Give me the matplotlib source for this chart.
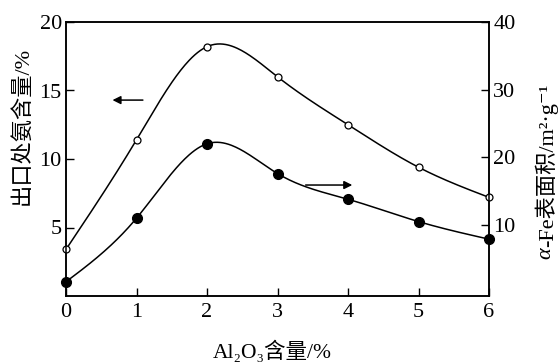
import numpy as np
import matplotlib
matplotlib.use('Agg')
import matplotlib.pyplot as plt

plt.rcParams['font.family'] = ['Liberation Serif', 'DejaVu Serif', 'Noto Sans CJK SC']

# data
al2o3 = [0, 1, 2, 3, 4, 5, 6]
nh3_outlet = [3.4, 11.4, 18.2, 16.0, 12.5, 9.4, 7.2]        # left axis, open circles
fe_area = [1.6, 11.0, 22.0, 17.6, 13.8, 10.5, 7.9]         # right axis, filled circles

x_ticks = [0, 1, 2, 3, 4, 5, 6]
left_ticks = [5, 10, 15, 20]
right_ticks = [10, 20, 30, 40]


def natural_spline(x, y, n=300):
    # plain natural cubic spline, just to get the smooth curves
    x = np.asarray(x, float)
    y = np.asarray(y, float)
    k = len(x)
    h = np.diff(x)
    A = np.zeros((k, k))
    b = np.zeros(k)
    A[0, 0] = 1
    A[-1, -1] = 1
    for i in range(1, k - 1):
        A[i, i - 1] = h[i - 1]
        A[i, i] = 2 * (h[i - 1] + h[i])
        A[i, i + 1] = h[i]
        b[i] = 6 * ((y[i + 1] - y[i]) / h[i] - (y[i] - y[i - 1]) / h[i - 1])
    m = np.linalg.solve(A, b)
    xs = np.linspace(x[0], x[-1], n)
    idx = np.clip(np.searchsorted(x, xs) - 1, 0, k - 2)
    x0, x1 = x[idx], x[idx + 1]
    hh = x1 - x0
    t0 = x1 - xs
    t1 = xs - x0
    ys = (m[idx] * t0**3 / (6 * hh) + m[idx + 1] * t1**3 / (6 * hh)
          + (y[idx] / hh - m[idx] * hh / 6) * t0
          + (y[idx + 1] / hh - m[idx + 1] * hh / 6) * t1)
    return xs, ys


fig = plt.figure(figsize=(5.58, 3.62), dpi=100)
ax = fig.add_axes([66 / 558, 1 - 296 / 362, (489 - 66) / 558, (296 - 22) / 362])
ax2 = ax.twinx()

xs, ys = natural_spline(al2o3, nh3_outlet)
ax.plot(xs, ys, color='black', lw=1.1)
ax.plot(al2o3, nh3_outlet, 'o', ms=5, mfc='white', mec='black', mew=0.9, clip_on=False, zorder=5)

xs, ys = natural_spline(al2o3, fe_area)
ax2.plot(xs, ys, color='black', lw=1.1)
ax2.plot(al2o3, fe_area, 'o', ms=7, color='black', clip_on=False, zorder=5)

ax.set_xlim(0, 6)
ax.set_ylim(0, 20)
ax2.set_ylim(-0.5, 40)
ax.set_xticks(x_ticks)
ax.set_yticks(left_ticks)
ax2.set_yticks(right_ticks)

for a in (ax, ax2):
    a.tick_params(direction='in', length=6, width=1, labelsize=16, pad=3)
    for s in a.spines.values():
        s.set_linewidth(1.1)
ax.tick_params(axis='x', pad=5)

# arrows showing which axis each curve belongs to
arrow = dict(arrowstyle='-|>', color='black', lw=1.1, mutation_scale=12)
ax.annotate('', xy=(0.62, 14.3), xytext=(1.13, 14.3), arrowprops=arrow)
ax.annotate('', xy=(4.1, 8.1), xytext=(3.36, 8.1), arrowprops=arrow)

# axis titles
fig.text(272 / 558, 10 / 362, 'Al₂O₃含量/%', ha='center', va='center', fontsize=15.5)
fig.text(22 / 558, 1 - 126 / 362, '出口处氨含量/%', ha='center', va='center',
         rotation=90, fontsize=16)
py = 1 - 247 / 362
fig.text(546 / 558, py, 'α', ha='right', va='center', rotation=90,
         rotation_mode='anchor', fontsize=16, style='italic')
fig.text(546 / 558, py, '-Fe表面积/m²·g⁻¹', ha='left', va='center', rotation=90,
         rotation_mode='anchor', fontsize=16)

fig.savefig('out.png', dpi=100)
